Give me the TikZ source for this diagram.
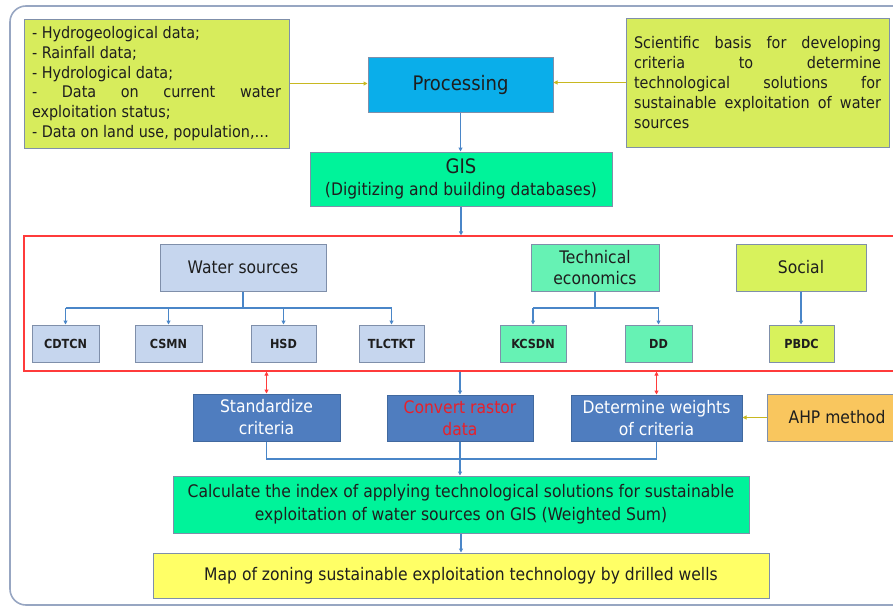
\documentclass[tikz,border=0pt]{standalone}
\usepackage{fontspec}
\setmainfont{DejaVu Sans Condensed}
\usetikzlibrary{arrows.meta}
\definecolor{framec}{HTML}{97A6C2}
\definecolor{bord}{HTML}{7F8FAA}
\definecolor{limec}{HTML}{D7EC5C}
\definecolor{procc}{HTML}{0AAEEA}
\definecolor{gisg}{HTML}{00F39A}
\definecolor{wsb}{HTML}{C6D6EE}
\definecolor{teg}{HTML}{66F2B4}
\definecolor{socc}{HTML}{D8F25C}
\definecolor{dblue}{HTML}{4F7DBF}
\definecolor{dbord}{HTML}{41699F}
\definecolor{ahpc}{HTML}{F9C65E}
\definecolor{mapy}{HTML}{FFFF66}
\definecolor{lblue}{HTML}{4A86C8}
\definecolor{olivec}{HTML}{C8B820}
\definecolor{redl}{HTML}{FF3B3B}
\definecolor{txt}{HTML}{1E1E1E}
\definecolor{redtxt}{HTML}{E8202A}
\tikzset{
  box/.style={draw=bord, line width=1pt, inner sep=0pt, align=center, text=txt},
  darkbox/.style={draw=dbord, fill=dblue, line width=1pt, inner sep=0pt, align=center, text=white},
  subbox/.style={box, fill=wsb, minimum height=37pt, font=\fontsize{12.5}{14}\selectfont\bfseries},
  mid/.style={font=\fontsize{17.3}{22}\selectfont},
  barrow/.style={draw=lblue, line width=1.1pt, -{Triangle[length=4pt,width=4pt]}},
  bline/.style={draw=lblue, line width=1.1pt},
  oarrow/.style={draw=olivec, line width=1.1pt, -{Triangle[length=4pt,width=4pt]}},
  rarrow/.style={draw=redl, line width=1.1pt, {Triangle[length=4pt,width=4pt]}-{Triangle[length=4pt,width=4pt]}},
}
\begin{document}
\begin{tikzpicture}[x=1pt,y=-1pt]
\useasboundingbox (0,0) rectangle (893,608);
% outer frame
\draw[framec, line width=1.6pt, rounded corners=16pt] (10,6) rectangle (915,605);

% top boxes
\node[box, fill=limec, minimum width=265pt, minimum height=129pt] (left) at (156.5,83.5)
  {\parbox{249pt}{\fontsize{16}{19.8}\selectfont
  - Hydrogeological data;\\
  - Rainfall data;\\
  - Hydrological data;\\
  - Data on current water\linebreak exploitation status;\\
  - Data on land use, population,…\par}};
\node[box, fill=limec, minimum width=263pt, minimum height=129pt] (right) at (757.5,82.5)
  {\parbox{247pt}{\fontsize{16}{20}\selectfont
  Scientific basis for developing\linebreak criteria to determine\linebreak technological solutions for\linebreak sustainable exploitation of water\linebreak sources\par}};
\node[box, fill=procc, minimum width=185pt, minimum height=55pt, font=\fontsize{20}{24}\selectfont] (proc) at (460.5,84.5) {Processing};
\node[box, fill=gisg, minimum width=302pt, minimum height=54pt, mid] (gis) at (461,179) {{\fontsize{20}{22}\selectfont GIS}\\(Digitizing and building databases)};

% criteria frame
\node[draw=redl, line width=1.2pt, minimum width=876pt, minimum height=135pt, inner sep=0pt] (crit) at (462,303.5) {};

\node[box, fill=wsb, minimum width=166pt, minimum height=47pt, mid] (ws) at (243,267.5) {Water sources};
\node[box, fill=teg, minimum width=128pt, minimum height=47pt, font=\fontsize{17.3}{21}\selectfont] (tech) at (595,267.5) {Technical\\economics};
\node[box, fill=socc, minimum width=130pt, minimum height=47pt, mid] (soc) at (801,267.5) {Social};

\node[subbox, minimum width=67pt] (cdtcn) at (65.5,343.5) {CDTCN};
\node[subbox, minimum width=67pt] (csmn) at (168.5,343.5) {CSMN};
\node[subbox, minimum width=65pt] (hsd) at (283.5,343.5) {HSD};
\node[subbox, minimum width=65pt] (tlc) at (391.5,343.5) {TLCTKT};
\node[subbox, fill=teg, minimum width=66pt] (kcs) at (533,343.5) {KCSDN};
\node[subbox, fill=teg, minimum width=67pt] (dd) at (658.5,343.5) {DD};
\node[subbox, fill=socc, minimum width=65pt] (pbdc) at (801.5,343.5) {PBDC};

% processing steps
\node[darkbox, minimum width=147pt, minimum height=47pt, mid] (std) at (266.5,417.5) {Standardize\\criteria};
\node[darkbox, minimum width=146pt, minimum height=46pt, mid, text=redtxt] (conv) at (460,418) {Convert rastor\\data};
\node[darkbox, minimum width=171pt, minimum height=46pt, mid] (det) at (656.5,418) {Determine weights\\of criteria};
\node[box, fill=ahpc, minimum width=140pt, minimum height=47pt, mid] (ahp) at (837,417.5) {AHP method};

\node[box, fill=gisg, minimum width=576pt, minimum height=57pt, font=\fontsize{17.3}{23}\selectfont] (calc) at (461,504.5)
  {Calculate the index of applying technological solutions for sustainable\\exploitation of water sources on GIS (Weighted Sum)};
\node[box, fill=mapy, minimum width=616pt, minimum height=45pt, mid] (map) at (461,575.5)
  {Map of zoning sustainable exploitation technology by drilled wells};

% connectors
\draw[oarrow] (left.east) -- (left.east -| proc.west);
\draw[oarrow] (right.west) -- (right.west -| proc.east);
\draw[barrow] (proc.south) -- (proc.south |- gis.north);
\draw[barrow] (gis.south) -- (gis.south |- crit.north);

\coordinate (br) at (0,308);
\draw[bline] (ws.south) -- (ws.south |- br);
\draw[bline] (cdtcn.north |- br) -- (tlc.north |- br);
\foreach \n in {cdtcn,csmn,hsd,tlc} \draw[barrow] (\n.north |- br) -- (\n.north);
\draw[bline] (tech.south) -- (tech.south |- br);
\draw[bline] (kcs.north |- br) -- (dd.north |- br);
\foreach \n in {kcs,dd} \draw[barrow] (\n.north |- br) -- (\n.north);
\draw[barrow] (soc.south) -- (soc.south |- pbdc.north);

\draw[rarrow] (std.north |- crit.south) -- (std.north);
\draw[rarrow] (det.north |- crit.south) -- (det.north);
\draw[barrow] (conv.north |- crit.south) -- (conv.north);
\draw[oarrow] (ahp.west) -- (ahp.west -| det.east);

\coordinate (jn) at (0,459);
\draw[bline] (std.south) -- (std.south |- jn) -- (det.south |- jn) -- (det.south);
\draw[barrow] (conv.south) -- (conv.south |- calc.north);
\draw[barrow] (calc.south) -- (calc.south |- map.north);
\end{tikzpicture}
\end{document}
